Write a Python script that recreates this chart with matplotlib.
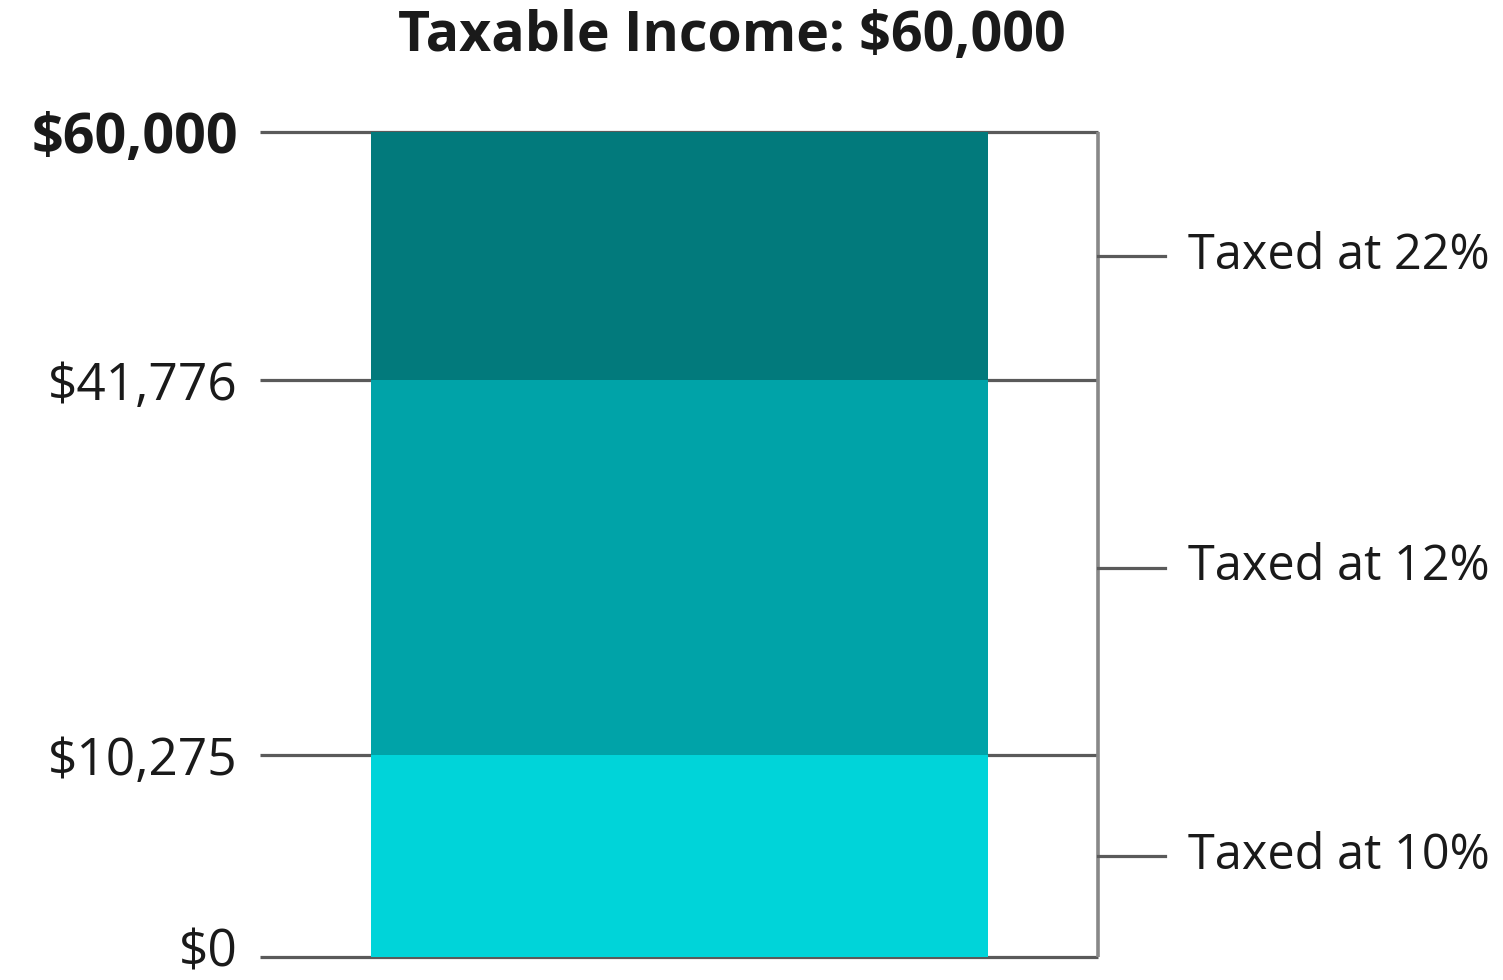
import matplotlib.pyplot as plt
import matplotlib.transforms as mtransforms
import numpy as np

# bracket edges and labels
edges = [0, 10275, 41776, 60000]
edge_labels = ["$0", "$10,275", "$41,776", "$60,000"]
rates = ["Taxed at 10%", "Taxed at 12%", "Taxed at 22%"]
colors = ["#00D4D9", "#00A3A8", "#027A7C"]
title = "Taxable Income: $60,000"

# the picture is not drawn to linear scale: each band gets its own height
band_pos = [0, 202, 577, 825]


def fwd(v):
    return np.interp(v, edges, band_pos)


def inv(p):
    return np.interp(p, band_pos, edges)


plt.rcParams['font.family'] = ['Open Sans', 'DejaVu Sans']

fig = plt.figure(figsize=(15.03, 9.8), dpi=100)
ax = fig.add_axes([260 / 1503, 23 / 980, 838 / 1503, 825 / 980])
ax.set_yscale('function', functions=(fwd, inv))
ax.set_xlim(0, 1)
ax.set_ylim(0, 60000)

lows = edges[:-1]
heights = np.diff(edges)
bar_l, bar_r = (371 - 260) / 838, (988 - 260) / 838
ax.bar((bar_l + bar_r) / 2, heights, width=bar_r - bar_l, bottom=lows,
       color=colors, edgecolor='none', zorder=2)

ax.hlines(edges, 0, 1, color='#5a5a5a', lw=2.3, zorder=1, clip_on=False)
ax.vlines(1, 0, 60000, color='#888888', lw=2.6, zorder=1, clip_on=False)

for lo, hi, r in zip(lows, edges[1:], rates):
    mid = inv((fwd(lo) + fwd(hi)) / 2)
    ax.plot([1, 1.08], [mid, mid], color='#5a5a5a', lw=2.3, clip_on=False)
    ax.text(1.107, mid, r, fontsize=35, va='center', ha='left', color='#1a1a1a')

ax.set_yticks(edges)
ax.set_yticklabels(edge_labels)
ax.yaxis.set_minor_locator(plt.NullLocator())
ax.tick_params(axis='y', length=0, pad=16, labelsize=37, labelcolor='#1a1a1a')
top_lab = ax.get_yticklabels()[-1]
top_lab.set_fontweight('bold')
top_lab.set_fontsize(40)
# keep the $0 label inside the canvas
low_lab = ax.get_yticklabels()[0]
low_lab.set_transform(low_lab.get_transform() +
                      mtransforms.ScaledTranslation(0, 0.1, fig.dpi_scale_trans))
ax.set_xticks([])
for s in ax.spines.values():
    s.set_visible(False)

fig.text(732 / 1503, 1 - 37 / 980, title, fontsize=40, fontweight='bold',
         ha='center', va='center', color='#1a1a1a')

fig.savefig('out.png', dpi=100, facecolor='white')
